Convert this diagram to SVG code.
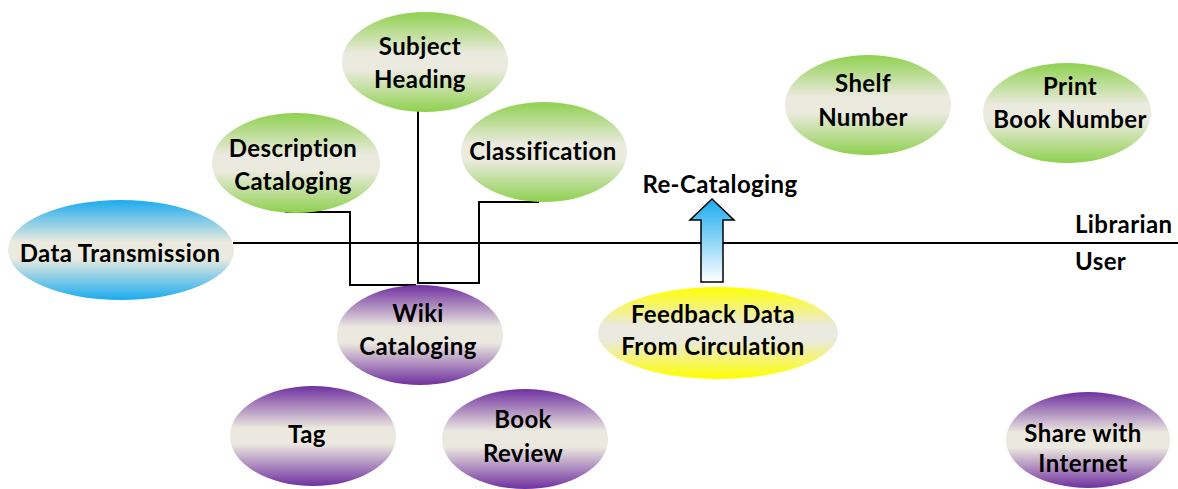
<svg xmlns="http://www.w3.org/2000/svg" width="1178" height="489" viewBox="0 0 1178 489">
<style>
.t{font-family:Lato,"Open Sans","Liberation Sans",sans-serif;font-weight:bold;font-size:24px;letter-spacing:0.4px;fill:#000;text-anchor:middle}
.l{font-family:Lato,"Open Sans","Liberation Sans",sans-serif;font-weight:bold;font-size:24px;letter-spacing:0.4px;fill:#000}
.c{fill:none;stroke:#000;stroke-width:2}
</style>
<defs>
<linearGradient id="gG" x1="0" y1="0" x2="0" y2="1">
<stop offset="0" stop-color="#8fd14f"/><stop offset="0.42" stop-color="#ebeadf"/><stop offset="0.58" stop-color="#ebeadf"/><stop offset="1" stop-color="#8fd14f"/>
</linearGradient>
<linearGradient id="gP" x1="0" y1="0" x2="0" y2="1">
<stop offset="0" stop-color="#7030a0"/><stop offset="0.42" stop-color="#ebe8df"/><stop offset="0.58" stop-color="#ebe8df"/><stop offset="1" stop-color="#7030a0"/>
</linearGradient>
<linearGradient id="gB" x1="0" y1="0" x2="0" y2="1">
<stop offset="0" stop-color="#1aabef"/><stop offset="0.42" stop-color="#ebeadf"/><stop offset="0.58" stop-color="#ebeadf"/><stop offset="1" stop-color="#1aabef"/>
</linearGradient>
<linearGradient id="gY" x1="0" y1="0" x2="0" y2="1">
<stop offset="0" stop-color="#ffff00"/><stop offset="0.42" stop-color="#ebeadf"/><stop offset="0.58" stop-color="#ebeadf"/><stop offset="1" stop-color="#ffff00"/>
</linearGradient>
<linearGradient id="gA" x1="0" y1="0" x2="0" y2="1">
<stop offset="0" stop-color="#1aabef"/><stop offset="1" stop-color="#ffffff"/>
</linearGradient>
</defs>
<g id="connectors">
<line class="c" x1="233" y1="243" x2="1178" y2="243"/>
<polyline class="c" points="285,212 350,212 350,285 416,285"/>
<polyline class="c" points="418,111 418,284"/>
<polyline class="c" points="418,283 479,283 479,202 539,202"/>
<path d="M701,282 V220 H690 L712,199 L734,220 H723 V282 Z" fill="url(#gA)" stroke="#000" stroke-width="1.5"/>
</g>
<g id="subject-heading"><ellipse cx="425" cy="62" rx="83" ry="50" fill="url(#gG)"/><text class="t" x="420" y="55">Subject</text><text class="t" x="420" y="88">Heading</text></g>
<g id="description-cataloging"><ellipse cx="296" cy="163" rx="84" ry="50" fill="url(#gG)"/><text class="t" x="293" y="157">Description</text><text class="t" x="293" y="190">Cataloging</text></g>
<g id="classification"><ellipse cx="544" cy="152" rx="83" ry="50" fill="url(#gG)"/><text class="t" x="543" y="160">Classification</text></g>
<g id="data-transmission"><ellipse cx="121" cy="250" rx="113" ry="50" fill="url(#gB)"/><text class="t" x="120" y="262">Data Transmission</text></g>
<g id="shelf-number"><ellipse cx="868" cy="105" rx="83" ry="50" fill="url(#gG)"/><text class="t" x="863" y="92">Shelf</text><text class="t" x="863" y="126">Number</text></g>
<g id="print-book-number"><ellipse cx="1067" cy="113" rx="84" ry="50" fill="url(#gG)"/><text class="t" x="1070" y="95">Print</text><text class="t" x="1070" y="128">Book Number</text></g>
<g id="re-cataloging"><text class="t" x="720" y="193">Re-Cataloging</text></g>
<g id="librarian"><text class="l" x="1075" y="233">Librarian</text></g>
<g id="user"><text class="l" x="1075" y="270">User</text></g>
<g id="wiki-cataloging"><ellipse cx="420" cy="335" rx="83" ry="50" fill="url(#gP)"/><text class="t" x="418" y="322">Wiki</text><text class="t" x="418" y="355">Cataloging</text></g>
<g id="feedback-data"><ellipse cx="718" cy="333" rx="120" ry="46" fill="url(#gY)"/><text class="t" x="713" y="323">Feedback Data</text><text class="t" x="713" y="355">From Circulation</text></g>
<g id="tag"><ellipse cx="313" cy="436" rx="83" ry="50" fill="url(#gP)"/><text class="t" x="307" y="443">Tag</text></g>
<g id="book-review"><ellipse cx="525" cy="439" rx="83" ry="50" fill="url(#gP)"/><text class="t" x="523" y="428">Book</text><text class="t" x="523" y="462">Review</text></g>
<g id="share-with-internet"><ellipse cx="1088" cy="440" rx="82" ry="48" fill="url(#gP)"/><text class="t" x="1083" y="442">Share with</text><text class="t" x="1083" y="472">Internet</text></g>
</svg>
